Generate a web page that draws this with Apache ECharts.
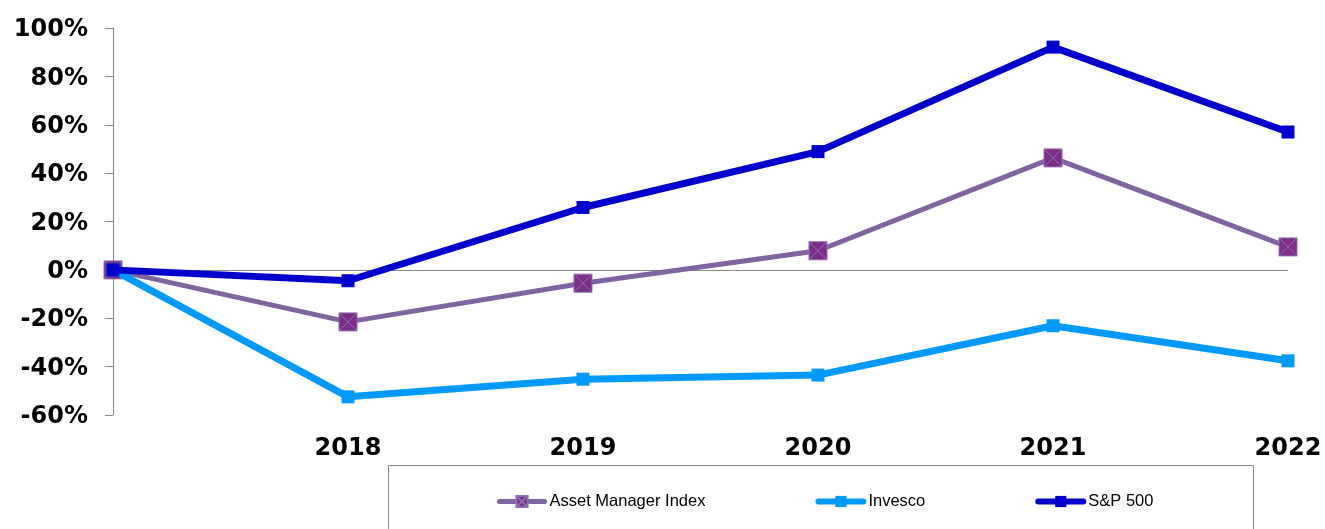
<!DOCTYPE html>
<html>
<head>
<meta charset="utf-8">
<script src="https://cdn.jsdelivr.net/npm/echarts@6/dist/echarts.min.js"></script>
<style>
  html, body { margin: 0; padding: 0; background: #fff; }
  #main { width: 1325px; height: 529px; }
</style>
</head>
<body>
<div id="main"></div>
<script>
// 年份（第一个是基准年，不显示标签）
const years = ['2017', '2018', '2019', '2020', '2021', '2022']
// 累计涨跌幅 %
const assetManager = [0, -21.5, -5.5, 7.9, 46.3, 9.5]
const invesco = [0, -52.5, -45.2, -43.5, -23.1, -37.6]
const sp500 = [0, -4.5, 25.8, 48.9, 92.1, 57.0]
const yTicks = [-60, -40, -20, 0, 20, 40, 60, 80, 100]

const boxX = 'path://M0,0 L20,0 L20,20 L0,20 Z M0,0 L20,20 M20,0 L0,20'

const myEchart = echarts.init(document.querySelector('#main'))
myEchart.setOption({
  animation: false,
  grid: {
    left: 113,
    right: 37,
    top: 28,
    bottom: 114,
  },
  graphic: [
    {
      type: 'rect',
      left: 386,
      top: 463,
      shape: { width: 865, height: 80 },
      style: { fill: 'none', stroke: '#888', lineWidth: 1 },
      silent: true,
    },
  ],
  legend: {
    left: 497,
    top: 493,
    padding: 0,
    itemGap: 110,
    itemWidth: 45,
    itemHeight: 14,
    textStyle: {
      fontFamily: 'Liberation Sans',
      fontSize: 16.5,
      color: '#000',
    },
    data: [
      { name: 'Asset Manager Index', lineStyle: { width: 5, cap: 'round' } },
      { name: 'Invesco', lineStyle: { width: 6, cap: 'round' } },
      { name: 'S&P 500', lineStyle: { width: 6, cap: 'round' } },
    ],
  },
  xAxis: {
    type: 'category',
    boundaryGap: false,
    data: years,
    axisLine: { show: false, onZero: false },
    axisTick: { show: false },
    axisLabel: {
      interval: (index) => index > 0,
      margin: 22,
      fontFamily: 'DejaVu Sans',
      fontWeight: 'bold',
      fontSize: 24,
      color: '#000',
    },
  },
  yAxis: {
    type: 'value',
    min: yTicks[0],
    max: yTicks[yTicks.length - 1],
    interval: 20,
    axisLine: { show: true, lineStyle: { color: '#888', width: 1 } },
    axisTick: { show: true, length: 8, lineStyle: { color: '#888' } },
    splitLine: { show: false },
    axisLabel: {
      margin: 25,
      formatter: '{value}%',
      verticalAlign: 'top',
      padding: [-10, 0, 0, 0],
      fontFamily: 'DejaVu Sans',
      fontWeight: 'bold',
      fontSize: 24,
      color: '#000',
    },
  },
  series: [
    {
      name: 'Asset Manager Index',
      type: 'line',
      data: assetManager,
      z: 3,
      symbol: boxX,
      symbolSize: 18,
      showAllSymbol: true,
      lineStyle: { color: '#8064A2', width: 5 },
      itemStyle: { color: '#7D2D87', borderColor: '#8C6FB0', borderWidth: 1 },
      markLine: {
        silent: true,
        symbol: 'none',
        label: { show: false },
        lineStyle: { color: '#888', width: 1, type: 'solid' },
        data: [{ yAxis: 0 }],
        z: 1,
      },
    },
    {
      name: 'Invesco',
      type: 'line',
      data: invesco,
      z: 4,
      symbol: 'rect',
      symbolSize: 13,
      showAllSymbol: true,
      lineStyle: { color: '#0099FF', width: 7 },
      itemStyle: { color: '#0099FF' },
    },
    {
      name: 'S&P 500',
      type: 'line',
      data: sp500,
      z: 5,
      symbol: 'rect',
      symbolSize: 13,
      showAllSymbol: true,
      lineStyle: { color: '#0000CC', width: 7 },
      itemStyle: { color: '#0000CC' },
    },
  ],
})
</script>
</body>
</html>
